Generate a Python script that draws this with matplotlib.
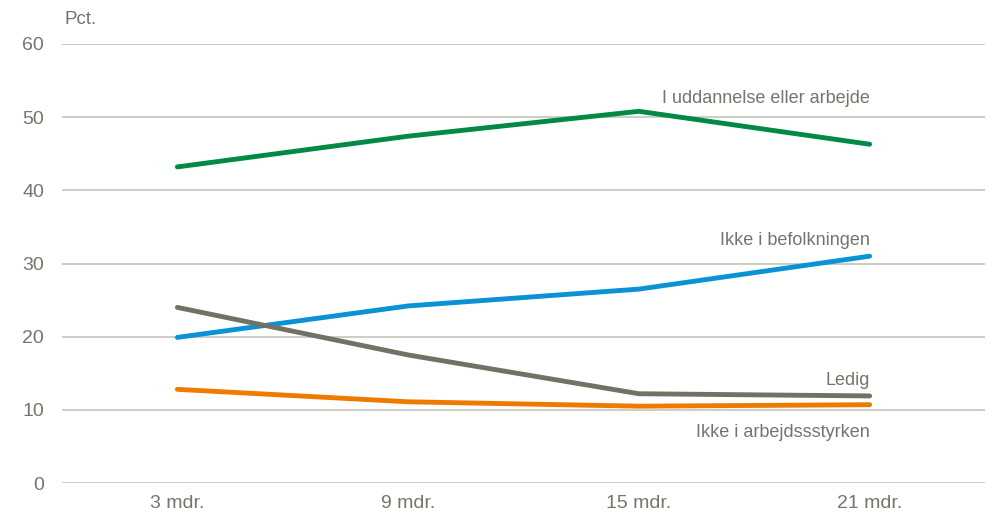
import matplotlib
matplotlib.use("Agg")
import matplotlib.pyplot as plt

categories = ["3 mdr.", "9 mdr.", "15 mdr.", "21 mdr."]
uddannelse = [43.2, 47.4, 50.8, 46.3]
befolkning = [19.9, 24.2, 26.5, 31.0]
ledig = [24.0, 17.5, 12.2, 11.9]
arbejdsstyrke = [12.8, 11.1, 10.5, 10.7]
yticks = [0, 10, 20, 30, 40, 50, 60]

plt.rcParams['font.family'] = ['Liberation Sans', 'DejaVu Sans']
txt = "#76756a"
grid = "#c9c9c1"

fig = plt.figure(figsize=(9.93, 5.15), dpi=100)
ax = fig.add_axes([62/993, 1-483/515, 923/993, 439/515])
x = list(range(len(categories)))

series = [
    (uddannelse, "#008a45", "I uddannelse eller arbejde", 52.5),
    (befolkning, "#0a92d4", "Ikke i befolkningen", 33.2),
    (ledig, "#727165", "Ledig", 14.0),
    (arbejdsstyrke, "#ef7a00", "Ikke i arbejdssstyrken", 6.9),
]
for vals, col, lab, ly in series:
    ax.plot(x, vals, color=col, lw=3.5, solid_capstyle='round', zorder=3)
    ax.text(3, ly, lab, ha='right', va='center', fontsize=13, color=txt)

ax.set_xlim(-0.5, 3.5)
ax.set_ylim(0, 60)
ax.set_yticks(yticks)
ax.set_xticks(x)
ax.set_xticklabels(categories)
ax.tick_params(axis='both', length=0, labelsize=14, labelcolor=txt)
ax.tick_params(axis='y', pad=13)
ax.tick_params(axis='x', pad=9)
ax.grid(axis='y', color=grid, lw=1.3)
ax.set_axisbelow(True)
for s in ax.spines.values():
    s.set_visible(False)
ax.text(0.003, 1.055, "Pct.", transform=ax.transAxes, ha='left', va='center',
        fontsize=13.5, color=txt)

fig.savefig("out.png", dpi=100)
